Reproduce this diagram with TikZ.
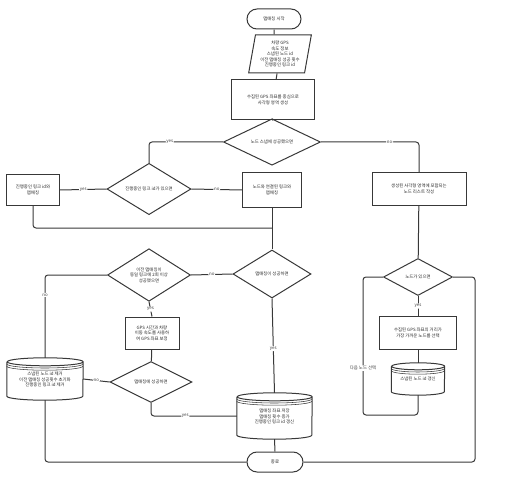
\documentclass[tikz,border=0pt]{standalone}
\usepackage{fontspec}
\setmainfont{Noto Sans CJK KR}
\usetikzlibrary{shapes.geometric,shapes.misc,calc}
\newcommand\cylout[3]{%
  \draw[ln] ([yshift=-#3]#1.north west) -- ([yshift=#3]#1.south west)
     arc[start angle=180,end angle=360,x radius=#2,y radius=#3]
     -- ([yshift=-#3]#1.north east)
     arc[start angle=0,end angle=360,x radius=#2,y radius=#3];
  \draw[ln,line width=0.55pt] ([yshift=-#3-2.2pt]#1.north west) arc[start angle=180,end angle=360,x radius=#2,y radius=#3];
  \draw[ln,line width=0.55pt] ([yshift=-#3-4.4pt]#1.north west) arc[start angle=180,end angle=360,x radius=#2,y radius=#3];
}
\begin{document}
\begin{tikzpicture}[x=1pt,y=1pt,
  every node/.style={font=\fontsize{4.4pt}{5.4pt}\selectfont, text=black!85, align=center},
  ln/.style={draw=black!78, line width=1pt},
  conn/.style={ln, rounded corners=3pt},
  term/.style={ln, rounded rectangle, inner sep=0pt},
  procbox/.style={ln, rectangle, inner sep=1pt},
  dec/.style={ln, diamond, inner sep=0pt},
  io/.style={ln, trapezium, trapezium left angle=78, trapezium right angle=102, trapezium stretches=true, inner sep=0pt},
  cylbox/.style={rectangle, inner sep=0pt},
  lbl/.style={fill=white, inner sep=0.8pt, text=black!75}
]
\useasboundingbox (0,0) rectangle (515,-487);

% nodes
\node[term, minimum width=54pt, minimum height=20pt] (start) at (274,-19) {맵매칭 시작};
\node[io, minimum width=63pt, minimum height=38pt] (input) at (280,-54) {차량 GPS\\속도 정보\\스냅된 노드 id\\이전 맵매칭 성공 횟수\\진행중인 링크 id};
\node[procbox, minimum width=83pt, minimum height=40pt] (rect1) at (273,-100) {수집된 GPS 좌표를 중심으로\\사각형 영역 생성};
\node[dec, minimum width=97pt, minimum height=43pt] (d1) at (272,-142) {노드 스냅에 성공했으면};
\node[dec, minimum width=84pt, minimum height=42pt] (d2) at (149,-189) {진행중인 링크 id가 있으면};
\node[procbox, minimum width=53pt, minimum height=31pt] (boxA) at (33,-190) {진행중인 링크 id와\\맵매칭};
\node[procbox, minimum width=59pt, minimum height=35pt] (boxB) at (272,-190) {노드와 연결된 링크와\\맵매칭};
\node[procbox, minimum width=94pt, minimum height=32pt] (boxC) at (419,-189) {생성된 사각형 영역에 포함되는\\노드 리스트 작성};
\node[dec, minimum width=78pt, minimum height=48pt] (d3) at (272,-274) {맵매칭이 성공하면};
\node[dec, minimum width=83pt, minimum height=43pt] (d4) at (149,-275) {이전 맵매칭이\\동일 링크에 2회 이상\\성공했으면};
\node[procbox, minimum width=54pt, minimum height=32pt] (boxD) at (152,-333) {GPS 시간과 차량\\이동 속도를 사용하\\여 GPS 좌표 보정};
\node[dec, minimum width=82pt, minimum height=41pt] (d5) at (151,-382) {맵매칭에 성공하면};
\node[cylbox, minimum width=76pt, minimum height=42pt] (cylL) at (45,-379) {\\[-1pt]스냅된 노드 id 제거\\이전 맵매칭 성공횟수 초기화\\진행중인 링크 id 제거};
\node[cylbox, minimum width=75pt, minimum height=46pt] (cylM) at (274.5,-416) {\\[-1pt]맵매칭 좌표 저장\\맵매칭 횟수 증가\\진행중인 링크 id 갱신};
\node[term, minimum width=56pt, minimum height=20pt] (end) at (275,-462) {종료};
\node[dec, minimum width=69pt, minimum height=37pt] (d6) at (418,-277) {노드가 있으면};
\node[procbox, minimum width=77pt, minimum height=33pt] (boxE) at (418,-333) {수집된 GPS 좌표의 거리가\\가장 가까운 노드를 선택};
\node[cylbox, minimum width=53pt, minimum height=32pt] (cylR) at (418,-379) {\\[-2pt]스냅된 노드 id 갱신};

\cylout{cylL}{38pt}{4pt}
\cylout{cylM}{37.5pt}{4pt}
\cylout{cylR}{26.5pt}{3.5pt}

\coordinate (j1) at (272,-228);
\coordinate (rc) at (475,-462);
\coordinate (lp) at (363,-415);

% connectors
\draw[conn] (start) -- (start |- input.north);
\draw[conn] (input) -- (rect1);
\draw[conn] (rect1) -- (d1);
\draw[conn] (d1.west) -| node[lbl,pos=0.36]{yes} (d2.north);
\draw[conn] (d2.west) -- node[lbl]{yes} (boxA.east);
\draw[conn] (d2.east) -- node[lbl]{no} (boxB.west);
\draw[conn] (d1.east) -| node[lbl,pos=0.35]{no} (boxC.north);
\draw[conn] (boxA.south) |- (j1);
\draw[conn] (boxB) -- (d3);
\draw[conn] (d3.west) -- node[lbl]{no} (d4.east);
\draw[conn] (d4.west) -| node[lbl,pos=0.62]{no} (cylL.north);
\draw[conn] (d4.south) -- node[lbl]{yes} (boxD.north);
\draw[conn] (boxD) -- (d5);
\draw[conn] (d5.west) -- node[lbl]{no} (cylL.east);
\draw[conn] (d5.south) |- node[lbl,pos=0.7]{yes} (cylM.west);
\draw[conn] (d3.south) -- node[lbl,pos=0.53]{yes} (cylM.north);
\draw[conn] (cylM.south) -- (end.north);
\draw[conn] (cylL.south) |- (end.west);
\draw[conn] (boxC) -- (d6);
\draw[conn] (d6.south) -- node[lbl]{yes} (boxE.north);
\draw[conn] (boxE) -- (cylR.north);
\draw[conn] (d6.east) -| (rc) -- (end.east);
\draw[conn] (cylR.south) |- (lp) |- node[lbl,pos=0.17]{다음 노드 선택} (d6.west);
\end{tikzpicture}
\end{document}
